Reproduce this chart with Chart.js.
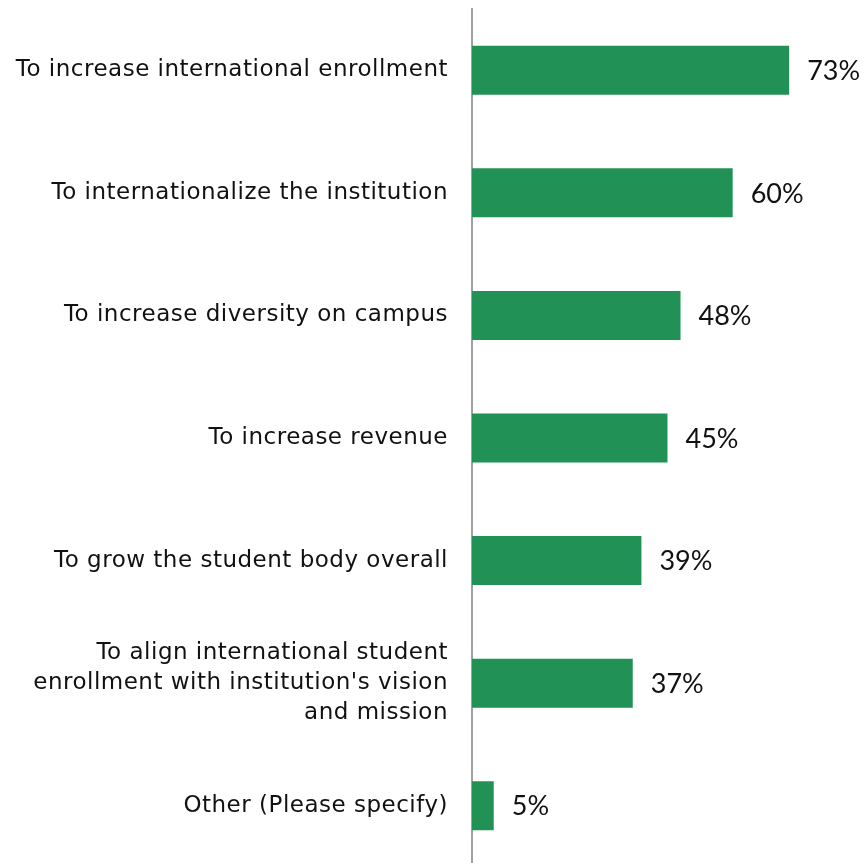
<!DOCTYPE html>
<html>
<head>
<meta charset="utf-8">
<script src="https://cdn.jsdelivr.net/npm/chart.js@4"></script>
<style>
  html, body { margin: 0; padding: 0; background: #fff; overflow: hidden; }
  #wrap { width: 868px; height: 868px; }
</style>
</head>
<body>
<div id="wrap"><canvas id="reasons"></canvas></div>
<script>
const reasons = [
  "To increase international enrollment",
  "To internationalize the institution",
  "To increase diversity on campus",
  "To increase revenue",
  "To grow the student body overall",
  ["To align international student", "enrollment with institution's vision", "and mission"],
  "Other (Please specify)",
];
const shares = [73, 60, 48, 45, 39, 37, 5];

// slightly wider tracking for the category labels
const tracking = {
  id: "tracking",
  beforeDraw(chart) {
    chart.ctx.letterSpacing = "0.5px";
  },
};

// writes "73%" etc. just past the end of each bar
const valueLabels = {
  id: "valueLabels",
  afterDatasetsDraw(chart) {
    const ctx = chart.ctx;
    ctx.save();
    ctx.letterSpacing = "0px";
    ctx.font = "27px Lato";
    ctx.fillStyle = "#111";
    ctx.textAlign = "left";
    ctx.textBaseline = "middle";
    chart.getDatasetMeta(0).data.forEach((bar, i) => {
      ctx.fillText(shares[i] + "%", bar.x + 18, bar.y + 1);
    });
    ctx.restore();
  },
};

new Chart(document.getElementById("reasons"), {
  type: "bar",
  data: {
    labels: reasons,
    datasets: [
      {
        data: shares,
        backgroundColor: "#219155",
        barPercentage: 0.4,
        categoryPercentage: 1,
      },
    ],
  },
  options: {
    indexAxis: "y",
    responsive: true,
    maintainAspectRatio: false,
    animation: false,
    layout: { padding: { top: 9, bottom: 1, right: 5 } },
    plugins: {
      legend: { display: false },
      tooltip: { enabled: false },
    },
    scales: {
      x: {
        display: false,
        min: 0,
        max: 90,
      },
      y: {
        grid: { display: false, drawTicks: false },
        border: { color: "#a0a0a0", width: 2 },
        ticks: {
          color: "#111",
          padding: 24,
          font: { family: "DejaVu Sans", size: 23, lineHeight: 1.3 },
        },
        afterFit(scale) {
          scale.width = 472;
          scale.paddingTop = 0;
          scale.paddingBottom = 0;
        },
      },
    },
  },
  plugins: [tracking, valueLabels],
});
</script>
</body>
</html>
